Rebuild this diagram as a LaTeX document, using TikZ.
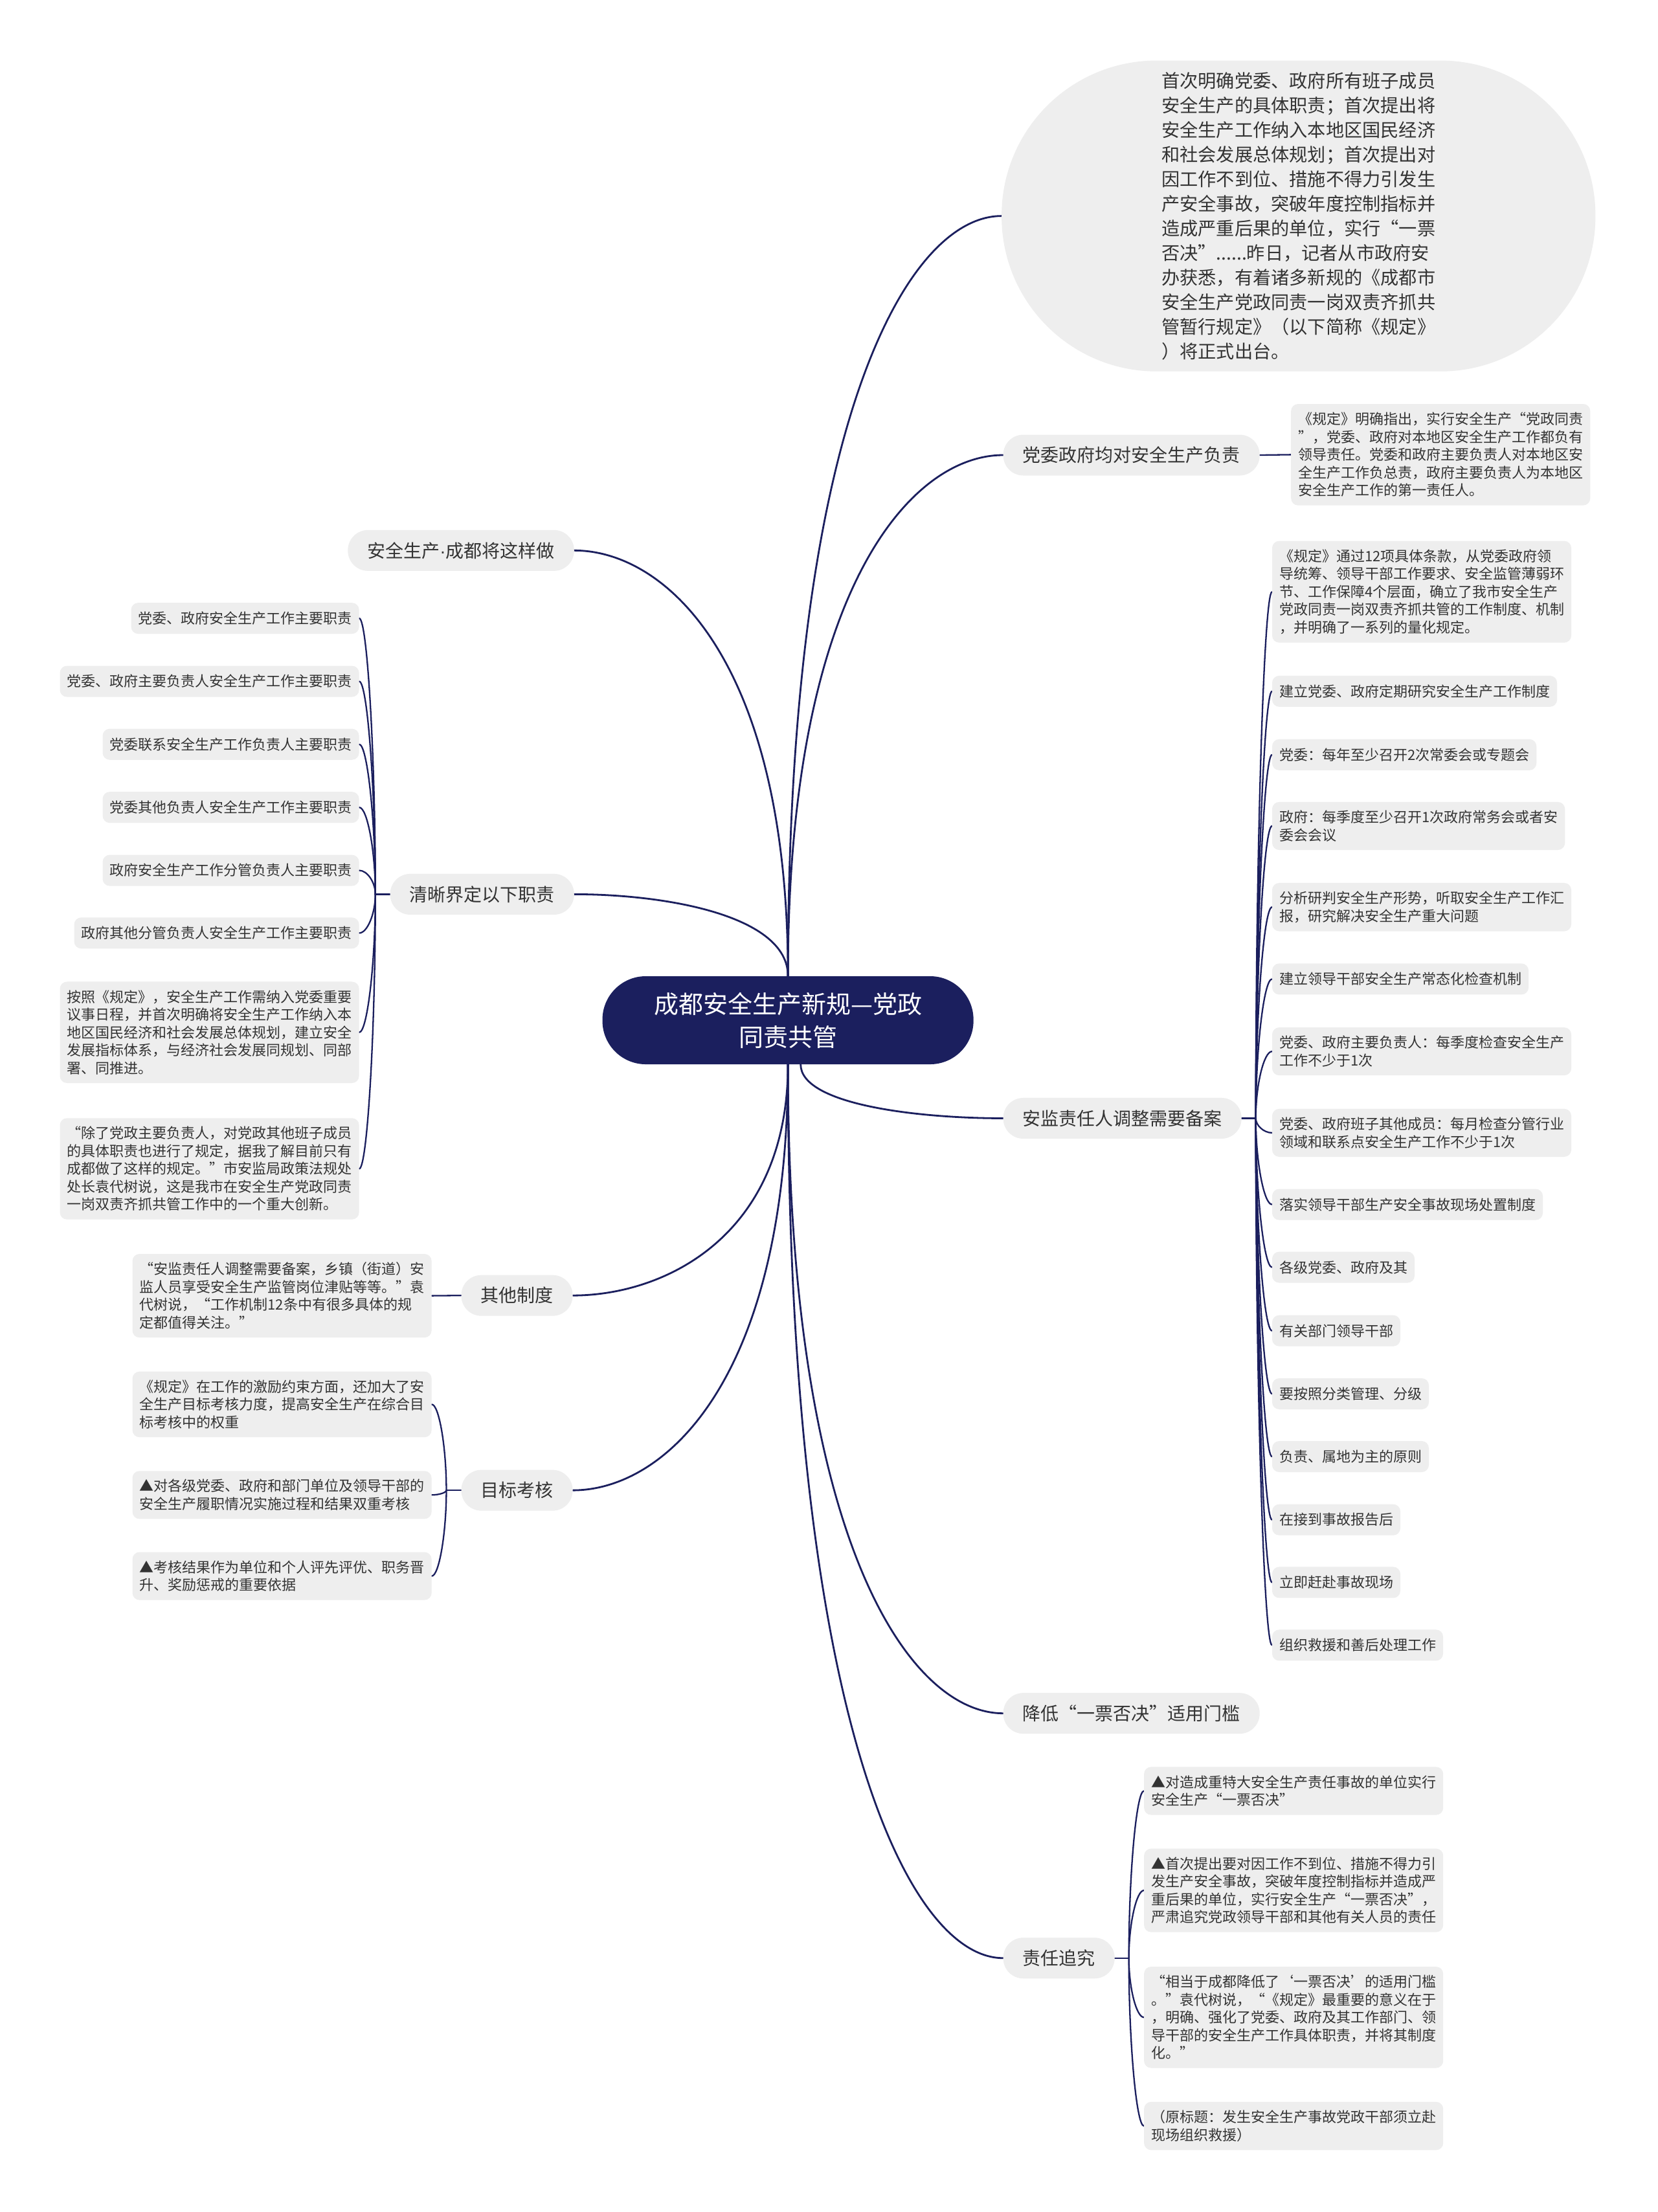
\documentclass[tikz,border=0pt]{standalone}
\usepackage{fontspec}
\setmainfont{Noto Sans CJK SC}
\newfontfamily\latinfont{Liberation Sans}
\usetikzlibrary{calc}
\definecolor{navy}{RGB}{27,31,94}
\definecolor{boxgray}{RGB}{238,238,238}
\definecolor{txt}{RGB}{51,51,51}
\pgfdeclarelayer{back}
\pgfdeclarelayer{bg}
\pgfsetlayers{back,bg,main}
\newcommand\mmedge[2]{\draw[mainedge] (#1) .. controls ($(#1)!0.74!(#1|-#2)$) and ($(#2)!0.43!(#2-|#1)$) .. (#2);}
\newcommand\bredge[2]{\draw[subedge] (#1) .. controls ($(#1)!0.5!(#1|-#2)$) and ($(#2)!0.5!(#2-|#1)$) .. (#2);}
\begin{document}
\begin{tikzpicture}[x=2.1787pt,y=-2.1787pt,
  cnode/.style={fill=navy, text=white, rounded corners=67pt, minimum width=573pt, minimum height=136pt, align=center, inner sep=0pt, font=\fontsize{38}{51}\selectfont},
  bignode/.style={fill=boxgray, text=txt, rounded corners=239pt, minimum width=917pt, minimum height=480pt, align=left, inner sep=0pt, font=\fontsize{28.2}{38}\selectfont},
  lvone/.style={fill=boxgray, text=txt, rounded corners=31pt, minimum height=63pt, inner xsep=30pt, inner ysep=0pt, font=\fontsize{28}{34}\selectfont},
  leaf/.style={fill=boxgray, text=txt, rounded corners=11pt, minimum height=48pt, inner xsep=11pt, inner ysep=13pt, align=left, font=\fontsize{22}{27.5}\selectfont},
  mainedge/.style={draw=navy, line width=2.8pt, line cap=round},
  subedge/.style={draw=navy, line width=2.3pt, line cap=round}
]
\begin{pgfonlayer}{back}
\fill[white] (0,0) rectangle (1175,1568);
\end{pgfonlayer}
\useasboundingbox (0,0) rectangle (1175,1568);

% centre
\node[cnode] (c) at (558.5,723.2) {成都安全生产新规—党政\\同责共管};

% right first level
\node[bignode] (e) at (920.4,153.1) {首次明确党委、政府所有班子成员\\安全生产的具体职责；首次提出将\\安全生产工作纳入本地区国民经济\\和社会发展总体规划；首次提出对\\因工作不到位、措施不得力引发生\\产安全事故，突破年度控制指标并\\造成严重后果的单位，实行“一票\\否决”......昨日，记者从市政府安\\办获悉，有着诸多新规的《成都市\\安全生产党政同责一岗双责齐抓共\\管暂行规定》（以下简称《规定》\\）将正式出台。};
\node[lvone, anchor=west] (a1) at (711,322.6) {党委政府均对安全生产负责};
\node[lvone, anchor=west] (a2) at (711,792.7) {安监责任人调整需要备案};
\node[lvone, anchor=west] (a3) at (711,1214.5) {降低“一票否决”适用门槛};
\node[lvone, anchor=west] (a4) at (711,1388) {责任追究};

% left first level
\node[lvone, anchor=east] (b1) at (407,390.2) {安全生产{\latinfont ·}成都将这样做};
\node[lvone, anchor=east] (b2) at (407,633.9) {清晰界定以下职责};
\node[lvone, anchor=east] (b3) at (406,918.3) {其他制度};
\node[lvone, anchor=east] (b4) at (406,1056.4) {目标考核};

% child of a1
\node[leaf, anchor=west] (d1) at (915,322.3) {《规定》明确指出，实行安全生产“党政同责\\”，党委、政府对本地区安全生产工作都负有\\领导责任。党委和政府主要负责人对本地区安\\全生产工作负总责，政府主要负责人为本地区\\安全生产工作的第一责任人。};

% children of a2
\node[leaf, anchor=west] (k1) at (901.6,419.5) {《规定》通过12项具体条款，从党委政府领\\导统筹、领导干部工作要求、安全监管薄弱环\\节、工作保障4个层面，确立了我市安全生产\\党政同责一岗双责齐抓共管的工作制度、机制\\，并明确了一系列的量化规定。};
\node[leaf, anchor=west] (k2) at (901.6,490) {建立党委、政府定期研究安全生产工作制度};
\node[leaf, anchor=west] (k3) at (901.6,535) {党委：每年至少召开2次常委会或专题会};
\node[leaf, anchor=west] (k4) at (901.6,585.5) {政府：每季度至少召开1次政府常务会或者安\\委会会议};
\node[leaf, anchor=west] (k5) at (901.6,643) {分析研判安全生产形势，听取安全生产工作汇\\报，研究解决安全生产重大问题};
\node[leaf, anchor=west] (k6) at (901.6,694) {建立领导干部安全生产常态化检查机制};
\node[leaf, anchor=west] (k7) at (901.6,745.3) {党委、政府主要负责人：每季度检查安全生产\\工作不少于1次};
\node[leaf, anchor=west] (k8) at (901.6,803) {党委、政府班子其他成员：每月检查分管行业\\领域和联系点安全生产工作不少于1次};
\node[leaf, anchor=west] (k9) at (901.6,853.8) {落实领导干部生产安全事故现场处置制度};
\node[leaf, anchor=west] (k10) at (901.6,898.3) {各级党委、政府及其};
\node[leaf, anchor=west] (k11) at (901.6,943.3) {有关部门领导干部};
\node[leaf, anchor=west] (k12) at (901.6,988) {要按照分类管理、分级};
\node[leaf, anchor=west] (k13) at (901.6,1032.5) {负责、属地为主的原则};
\node[leaf, anchor=west] (k14) at (901.6,1077.3) {在接到事故报告后};
\node[leaf, anchor=west] (k15) at (901.6,1121.7) {立即赶赴事故现场};
\node[leaf, anchor=west] (k16) at (901.6,1166.2) {组织救援和善后处理工作};

% children of a4
\node[leaf, anchor=west] (r1) at (810.8,1269.5) {▲对造成重特大安全生产责任事故的单位实行\\安全生产“一票否决”};
\node[leaf, anchor=west] (r2) at (810.8,1340) {▲首次提出要对因工作不到位、措施不得力引\\发生产安全事故，突破年度控制指标并造成严\\重后果的单位，实行安全生产“一票否决”，\\严肃追究党政领导干部和其他有关人员的责任};
\node[leaf, anchor=west] (r3) at (810.8,1430) {“相当于成都降低了‘一票否决’的适用门槛\\。”袁代树说，“《规定》最重要的意义在于\\，明确、强化了党委、政府及其工作部门、领\\导干部的安全生产工作具体职责，并将其制度\\化。”};
\node[leaf, anchor=west] (r4) at (810.8,1507) {（原标题：发生安全生产事故党政干部须立赴\\现场组织救援）};

% children of b2
\node[leaf, anchor=east] (l1) at (254.6,438.3) {党委、政府安全生产工作主要职责};
\node[leaf, anchor=east] (l2) at (254.6,483) {党委、政府主要负责人安全生产工作主要职责};
\node[leaf, anchor=east] (l3) at (254.6,527.6) {党委联系安全生产工作负责人主要职责};
\node[leaf, anchor=east] (l4) at (254.6,572.3) {党委其他负责人安全生产工作主要职责};
\node[leaf, anchor=east] (l5) at (254.6,617) {政府安全生产工作分管负责人主要职责};
\node[leaf, anchor=east] (l6) at (254.6,661.4) {政府其他分管负责人安全生产工作主要职责};
\node[leaf, anchor=east] (l7) at (254.6,731.8) {按照《规定》，安全生产工作需纳入党委重要\\议事日程，并首次明确将安全生产工作纳入本\\地区国民经济和社会发展总体规划，建立安全\\发展指标体系，与经济社会发展同规划、同部\\署、同推进。};
\node[leaf, anchor=east] (l8) at (254.6,828.5) {“除了党政主要负责人，对党政其他班子成员\\的具体职责也进行了规定，据我了解目前只有\\成都做了这样的规定。”市安监局政策法规处\\处长袁代树说，这是我市在安全生产党政同责\\一岗双责齐抓共管工作中的一个重大创新。};

% child of b3
\node[leaf, anchor=east] (o1) at (306,918.5) {“安监责任人调整需要备案，乡镇（街道）安\\监人员享受安全生产监管岗位津贴等等。”袁\\代树说，“工作机制12条中有很多具体的规\\定都值得关注。”};

% children of b4
\node[leaf, anchor=east] (m1) at (306,995.5) {《规定》在工作的激励约束方面，还加大了安\\全生产目标考核力度，提高安全生产在综合目\\标考核中的权重};
\node[leaf, anchor=east] (m2) at (306,1059.7) {▲对各级党委、政府和部门单位及领导干部的\\安全生产履职情况实施过程和结果双重考核};
\node[leaf, anchor=east] (m3) at (306,1117.2) {▲考核结果作为单位和个人评先评优、职务晋\\升、奖励惩戒的重要依据};

\begin{pgfonlayer}{bg}
  \coordinate (cs2) at ($(c.south)+(9,0)$);
  \mmedge{c.north}{e.west}
  \mmedge{c.north}{a1.west}
  \mmedge{cs2}{a2.west}
  \mmedge{c.south}{a3.west}
  \mmedge{c.south}{a4.west}
  \mmedge{c.north}{b1.east}
  \mmedge{c.north}{b2.east}
  \mmedge{c.south}{b3.east}
  \mmedge{c.south}{b4.east}
  % single children
  \draw[subedge] (a1.east) -- (d1.west);
  \draw[subedge] (b3.west) -- (o1.east);
  % bracket a2
  \coordinate (s2) at ($(a2.east)+(10,0)$);
  \draw[subedge] (a2.east) -- (s2);
  \foreach \k in {k1,k2,k3,k4,k5,k6,k7,k8,k9,k10,k11,k12,k13,k14,k15,k16} {\bredge{s2}{\k.west}}
  % bracket a4
  \coordinate (s4) at ($(a4.east)+(10,0)$);
  \draw[subedge] (a4.east) -- (s4);
  \foreach \k in {r1,r2,r3,r4} {\bredge{s4}{\k.west}}
  % bracket b2
  \coordinate (t2) at ($(b2.west)+(-10.4,0)$);
  \draw[subedge] (b2.west) -- (t2);
  \foreach \k in {l1,l2,l3,l4,l5,l6,l7,l8} {\bredge{t2}{\k.east}}
  % bracket b4
  \coordinate (t4) at ($(b4.west)+(-10.5,0)$);
  \draw[subedge] (b4.west) -- (t4);
  \foreach \k in {m1,m2,m3} {\bredge{t4}{\k.east}}
\end{pgfonlayer}
\end{tikzpicture}
\end{document}
